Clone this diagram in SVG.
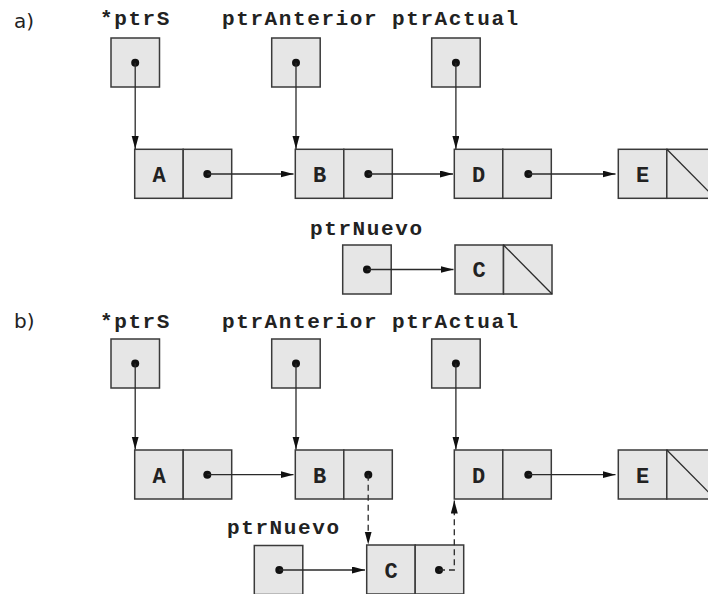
<svg xmlns="http://www.w3.org/2000/svg" width="708" height="594" viewBox="0 0 708 594">
<style>
.box{fill:#e6e6e6;stroke:#3a3a3a;stroke-width:1.5}
.ln{fill:none;stroke:#2a2a2a;stroke-width:1.3}
.dash{fill:none;stroke:#2a2a2a;stroke-width:1.3;stroke-dasharray:6 4}
.dot{fill:#111}
.lbl{font-family:"Liberation Mono","Courier New",monospace;font-weight:bold;font-size:21px;letter-spacing:1.6px;fill:#222}
.val{font-family:"Liberation Mono","Courier New",monospace;font-weight:bold;font-size:22px;fill:#222;text-anchor:middle}
.part{font-family:"DejaVu Sans","Liberation Sans",sans-serif;font-size:20px;fill:#222}
</style>
<defs>
<marker id="ah" markerUnits="userSpaceOnUse" markerWidth="14" markerHeight="8" refX="13" refY="3.5" orient="auto">
<path d="M0,0 L13,3.5 L0,7 z" fill="#111"/>
</marker>
</defs>

<text class="part" x="14" y="28">a)</text>
<text class="part" x="14" y="328">b)</text>

<!-- Part a -->
<g id="a-ptrS">
<text class="lbl" x="100" y="25">*ptrS</text>
<rect class="box" x="111" y="38" width="48.5" height="49"/>
<circle class="dot" cx="135.2" cy="62.7" r="4"/>
</g>
<g id="a-ptrAnterior">
<text class="lbl" x="222" y="25">ptrAnterior</text>
<rect class="box" x="271.7" y="38" width="48.5" height="49"/>
<circle class="dot" cx="296" cy="62.7" r="4"/>
</g>
<g id="a-ptrActual">
<text class="lbl" x="392" y="25">ptrActual</text>
<rect class="box" x="431.7" y="38" width="48.5" height="49"/>
<circle class="dot" cx="455.9" cy="62.7" r="4"/>
</g>
<g id="a-nodeA">
<rect class="box" x="134.7" y="149.3" width="48.5" height="49"/>
<rect class="box" x="183.2" y="149.3" width="48.5" height="49"/>
<text class="val" x="159" y="181.5">A</text>
<circle class="dot" cx="207.3" cy="174" r="4"/>
</g>
<g id="a-nodeB">
<rect class="box" x="295.3" y="149.3" width="48.5" height="49"/>
<rect class="box" x="343.8" y="149.3" width="48.5" height="49"/>
<text class="val" x="319.5" y="181.5">B</text>
<circle class="dot" cx="368.3" cy="174" r="4"/>
</g>
<g id="a-nodeD">
<rect class="box" x="454.3" y="149.3" width="48.5" height="49"/>
<rect class="box" x="502.8" y="149.3" width="48.5" height="49"/>
<text class="val" x="478.5" y="181.5">D</text>
<circle class="dot" cx="528.3" cy="174" r="4"/>
</g>
<g id="a-nodeE">
<rect class="box" x="618.3" y="149.3" width="48.5" height="49"/>
<rect class="box" x="666.8" y="149.3" width="48.5" height="49"/>
<line class="ln" x1="666.8" y1="149.3" x2="715.3" y2="198.3"/>
<text class="val" x="642.5" y="181.5">E</text>
</g>
<g id="a-ptrNuevo">
<text class="lbl" x="310" y="235">ptrNuevo</text>
<rect class="box" x="342.7" y="245" width="48.5" height="49"/>
<circle class="dot" cx="367" cy="269.5" r="4"/>
</g>
<g id="a-nodeC">
<rect class="box" x="455" y="245" width="48.5" height="49"/>
<rect class="box" x="503.5" y="245" width="48.5" height="49"/>
<line class="ln" x1="503.5" y1="245" x2="552" y2="294"/>
<text class="val" x="479.2" y="277">C</text>
</g>

<!-- Part b -->
<g id="b-ptrS">
<text class="lbl" x="100" y="328">*ptrS</text>
<rect class="box" x="111" y="339" width="48.5" height="49"/>
<circle class="dot" cx="135.2" cy="363.5" r="4"/>
</g>
<g id="b-ptrAnterior">
<text class="lbl" x="222" y="328">ptrAnterior</text>
<rect class="box" x="271.7" y="339" width="48.5" height="49"/>
<circle class="dot" cx="296" cy="363.5" r="4"/>
</g>
<g id="b-ptrActual">
<text class="lbl" x="392" y="328">ptrActual</text>
<rect class="box" x="431.7" y="339" width="48.5" height="49"/>
<circle class="dot" cx="455.9" cy="363.5" r="4"/>
</g>
<g id="b-nodeA">
<rect class="box" x="134.7" y="450" width="48.5" height="49"/>
<rect class="box" x="183.2" y="450" width="48.5" height="49"/>
<text class="val" x="159" y="482.5">A</text>
<circle class="dot" cx="207.3" cy="474.7" r="4"/>
</g>
<g id="b-nodeB">
<rect class="box" x="295.3" y="450" width="48.5" height="49"/>
<rect class="box" x="343.8" y="450" width="48.5" height="49"/>
<text class="val" x="319.5" y="482.5">B</text>
<circle class="dot" cx="368.3" cy="474.7" r="4"/>
</g>
<g id="b-nodeD">
<rect class="box" x="454.3" y="450" width="48.5" height="49"/>
<rect class="box" x="502.8" y="450" width="48.5" height="49"/>
<text class="val" x="478.5" y="482.5">D</text>
<circle class="dot" cx="528.3" cy="474.7" r="4"/>
</g>
<g id="b-nodeE">
<rect class="box" x="618.3" y="450" width="48.5" height="49"/>
<rect class="box" x="666.8" y="450" width="48.5" height="49"/>
<line class="ln" x1="666.8" y1="450" x2="715.3" y2="499"/>
<text class="val" x="642.5" y="482.5">E</text>
</g>
<g id="b-ptrNuevo">
<text class="lbl" x="227" y="534">ptrNuevo</text>
<rect class="box" x="254.3" y="545.5" width="48.5" height="49"/>
<circle class="dot" cx="279.3" cy="570" r="4"/>
</g>
<g id="b-nodeC">
<rect class="box" x="366.7" y="545" width="48.5" height="49"/>
<rect class="box" x="415.2" y="545" width="48.5" height="49"/>
<text class="val" x="391" y="577.5">C</text>
<circle class="dot" cx="439" cy="570" r="4"/>
</g>

<g id="connectors">
<line class="ln" x1="135.2" y1="62.7" x2="135.2" y2="149" marker-end="url(#ah)"/>
<line class="ln" x1="296" y1="62.7" x2="296" y2="149" marker-end="url(#ah)"/>
<line class="ln" x1="455.9" y1="62.7" x2="455.9" y2="149" marker-end="url(#ah)"/>
<line class="ln" x1="207.3" y1="174" x2="293.5" y2="174" marker-end="url(#ah)"/>
<line class="ln" x1="368.3" y1="174" x2="453" y2="174" marker-end="url(#ah)"/>
<line class="ln" x1="528.3" y1="174" x2="615.5" y2="174" marker-end="url(#ah)"/>
<line class="ln" x1="367" y1="269.5" x2="453.5" y2="269.5" marker-end="url(#ah)"/>

<line class="ln" x1="135.2" y1="363.5" x2="135.2" y2="449.5" marker-end="url(#ah)"/>
<line class="ln" x1="296" y1="363.5" x2="296" y2="449.5" marker-end="url(#ah)"/>
<line class="ln" x1="455.9" y1="363.5" x2="455.9" y2="449.5" marker-end="url(#ah)"/>
<line class="ln" x1="207.3" y1="474.7" x2="293.5" y2="474.7" marker-end="url(#ah)"/>
<line class="ln" x1="528.3" y1="474.7" x2="615.5" y2="474.7" marker-end="url(#ah)"/>
<line class="ln" x1="279.3" y1="570" x2="365" y2="570" marker-end="url(#ah)"/>
<path class="dash" d="M368.2,474.7 V544.5" marker-end="url(#ah)"/>
<path class="dash" d="M439,570 H454.3 V500.5" marker-end="url(#ah)"/>
</g>
</svg>
